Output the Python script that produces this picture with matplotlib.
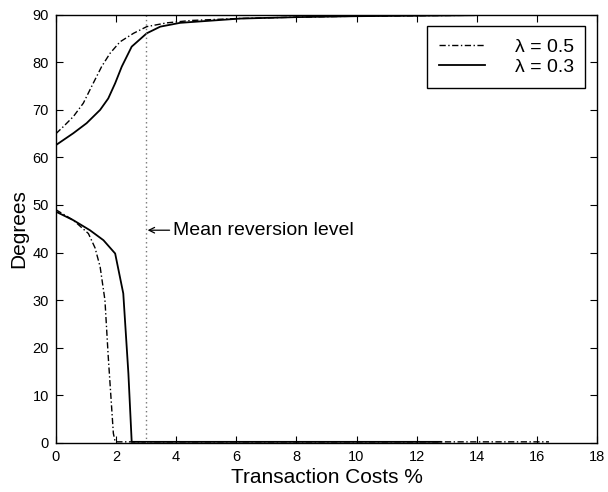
import numpy as np
import matplotlib.pyplot as plt

plt.rcParams['font.family'] = ['Liberation Sans', 'DejaVu Sans']

# upper branch (angle close to 90 deg)
x_up_05 = [0.0, 0.25, 0.58, 0.91, 1.24, 1.52, 1.80, 2.13, 2.58, 3.02, 3.69, 4.5, 6.0, 8.0, 10.0, 12.0, 14.0]
y_up_05 = [65.0, 66.5, 68.6, 71.4, 75.6, 79.1, 81.9, 84.3, 86.1, 87.5, 88.3, 88.8, 89.2, 89.5, 89.7, 89.8, 89.9]
x_up_03 = [0.0, 0.58, 1.02, 1.47, 1.74, 1.97, 2.19, 2.52, 3.02, 3.47, 4.13, 6.13, 8.0, 10.0, 12.0, 13.9]
y_up_03 = [62.6, 65.1, 67.2, 70.0, 72.4, 75.6, 79.1, 83.3, 86.1, 87.5, 88.3, 89.2, 89.5, 89.7, 89.8, 89.9]

# lower branch (angle falling to 0)
x_lo_05 = [0.0, 0.58, 1.08, 1.30, 1.47, 1.63, 1.74, 1.91, 1.97, 16.4]
y_lo_05 = [49.0, 46.8, 44.0, 41.0, 37.0, 30.0, 18.1, 2.0, 0.2, 0.2]
x_lo_03 = [0.0, 0.58, 1.13, 1.58, 1.97, 2.24, 2.41, 2.52, 12.8]
y_lo_03 = [48.6, 46.8, 44.7, 42.6, 39.8, 31.4, 14.6, 0.2, 0.2]

mean_rev = 3.0

fig = plt.figure(figsize=(6.08, 4.92), dpi=100)
ax = fig.add_axes([0.092, 0.1, 0.89, 0.87])

dashdot = (0, (4.5, 1.8, 1, 1.8))
l1, = ax.plot(x_up_05, y_up_05, color='k', lw=1.0, linestyle=dashdot)
ax.plot(x_lo_05, y_lo_05, color='k', lw=1.0, linestyle=dashdot)
l2, = ax.plot(x_up_03, y_up_03, color='k', lw=1.3)
ax.plot(x_lo_03, y_lo_03, color='k', lw=1.3)

ax.plot([mean_rev, mean_rev], [0, 90], color='#777777', lw=1.0, linestyle=(0, (1, 2.2)))
ax.annotate('', xy=(mean_rev + 0.05, 44.7), xytext=(mean_rev + 0.78, 44.7),
            arrowprops=dict(arrowstyle='->', lw=0.9, color='k',
                            shrinkA=0, shrinkB=0, mutation_scale=10))
ax.text(mean_rev + 0.9, 44.7, 'Mean reversion level', fontsize=14,
        va='center', ha='left')

ax.set_xlim(0, 18)
ax.set_ylim(0, 90)
ax.set_xticks(np.arange(0, 19, 2))
ax.set_yticks(np.arange(0, 91, 10))
ax.tick_params(direction='in', top=True, right=True, length=5, width=0.8,
               labelsize=10.5, pad=5)
for s in ax.spines.values():
    s.set_linewidth(1.0)

ax.set_xlabel('Transaction Costs %', fontsize=15, labelpad=3)
ax.set_ylabel('Degrees', fontsize=15, labelpad=3)

leg = ax.legend([l1, l2], ['\u03bb = 0.5', '\u03bb = 0.3'], loc='upper right',
                fontsize=14, fancybox=False, edgecolor='k', framealpha=1,
                handlelength=2.4, handletextpad=1.5, labelspacing=0.15,
                borderpad=0.6, borderaxespad=0.6)
leg.get_frame().set_linewidth(1.0)

fig.savefig('out.png', dpi=100)
